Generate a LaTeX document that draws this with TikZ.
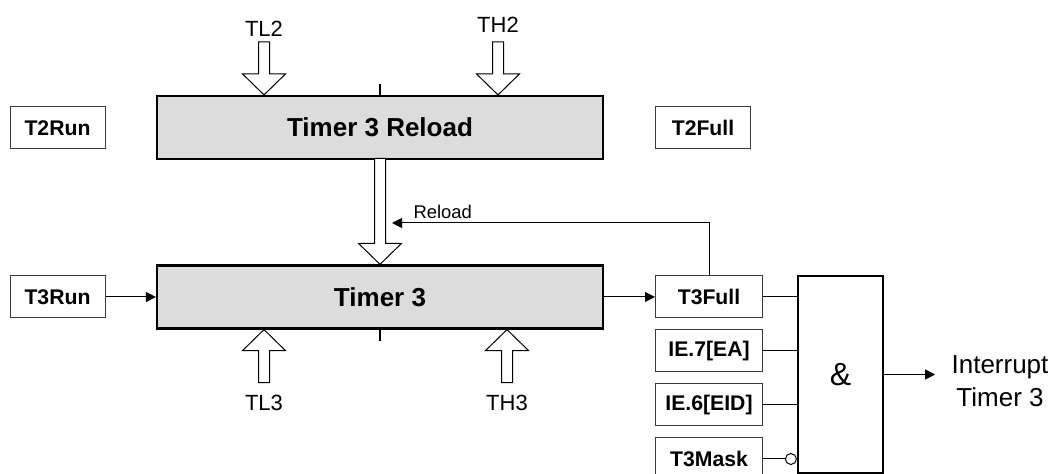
\documentclass[tikz,border=0pt]{standalone}
\usepackage{fontspec}
\setsansfont{Liberation Sans}
\usetikzlibrary{arrows.meta,positioning}
\definecolor{boxgray}{HTML}{DCDCDC}
\definecolor{edge}{HTML}{3A3A3A}
\tikzset{
  base/.style={font=\sffamily\bfseries\fontsize{10.6}{12}\selectfont,draw=edge,line width=0.5pt,fill=white,inner sep=0pt,minimum width=53.5pt,minimum height=21pt},
  flag/.style={base,minimum width=47.5pt},
  timer/.style={base,draw=black,line width=1.1pt,fill=boxgray,minimum width=223pt,minimum height=31.5pt,font=\sffamily\bfseries\fontsize{13}{15}\selectfont},
  gate/.style={draw=black,line width=1.1pt,fill=white,minimum width=42.5pt,minimum height=98.5pt,inner sep=0pt,font=\sffamily\fontsize{16}{18}\selectfont},
  reg/.style={font=\sffamily\fontsize{11}{13}\selectfont,inner sep=1pt},
  note/.style={font=\sffamily\fontsize{9.2}{11}\selectfont,inner sep=1pt},
  invert/.style={circle,draw=black,line width=0.5pt,fill=white,inner sep=0pt,minimum size=5.5pt},
  flow/.style={-{Triangle[length=5pt,width=5pt]},line width=0.5pt,draw=black},
  wire/.style={line width=0.5pt,draw=black},
  tick/.style={line width=1pt,draw=black},
  pics/fatarrow/.style={code={
    \draw[line width=0.5pt,fill=white,line join=miter] (-5.5,-#1) -- (-5.5,-21) -- (-21.5,-21) -- (0,0)
      -- (21.5,-21) -- (5.5,-21) -- (5.5,-#1) -- cycle;}}
}
\begin{document}
\begin{tikzpicture}[x=0.5pt,y=-0.5pt]
\useasboundingbox (0,0) rectangle (1053,474);

\node[timer] (reload) at (380,127.5) {Timer 3 Reload};
\node[timer] (timer3) at (380,297) {Timer 3};
\node[flag] (t2run) at (57.5,128) {T2Run};
\node[flag] (t3run) at (57.5,297) {T3Run};
\node[flag] (t2full) at (703,128) {T2Full};

\node[base] (t3full) at (709,297) {T3Full};
\node[base,below=5.5pt of t3full] (ie7) {IE.7[EA]};
\node[base,below=5.5pt of ie7] (ie6) {IE.6[EID]};
\node[base,below=5.5pt of ie6] (t3mask) {T3Mask};

\node[gate] (andgate) at (840.5,374.5) {\&};
\node[font=\sffamily\fontsize{13}{16.5}\selectfont,align=center,inner xsep=8pt] (intr) at (1000,381) {Interrupt\\Timer 3};

% register inputs
\node[reg] (tl2) at (264,29) {TL2};
\node[reg] (th2) at (498,25) {TH2};
\node[reg] (tl3) at (264,403) {TL3};
\node[reg] (th3) at (507,403) {TH3};
\pic at (reload.north -| tl2) {fatarrow=53};
\pic at (reload.north -| th2) {fatarrow=53};
\pic[yscale=-1] at (timer3.south -| tl3) {fatarrow=53};
\pic[yscale=-1] at (timer3.south -| th3) {fatarrow=53};
\pic at (timer3.north) {fatarrow=106};

\draw[tick] (reload.north) -- ++(0,-11);
\draw[tick] (timer3.south) -- ++(0,11);

% reload path
\coordinate (rldin) at (392,223);
\draw[flow] (t3full.north) |- node[note,pos=0.92,above,yshift=1pt]{Reload} (rldin);

\draw[flow] (t3run) -- (timer3);
\draw[flow] (timer3) -- (t3full);

% and gate
\node[invert,anchor=east] (inv) at (andgate.west |- t3mask) {};
\draw[wire] (t3full.east) -- (t3full.east -| andgate.west);
\draw[wire] (ie7.east) -- (ie7.east -| andgate.west);
\draw[wire] (ie6.east) -- (ie6.east -| andgate.west);
\draw[wire] (t3mask.east) -- (inv.west);
\draw[flow] (andgate.east) -- (andgate.east -| intr.west);
\end{tikzpicture}
\end{document}
